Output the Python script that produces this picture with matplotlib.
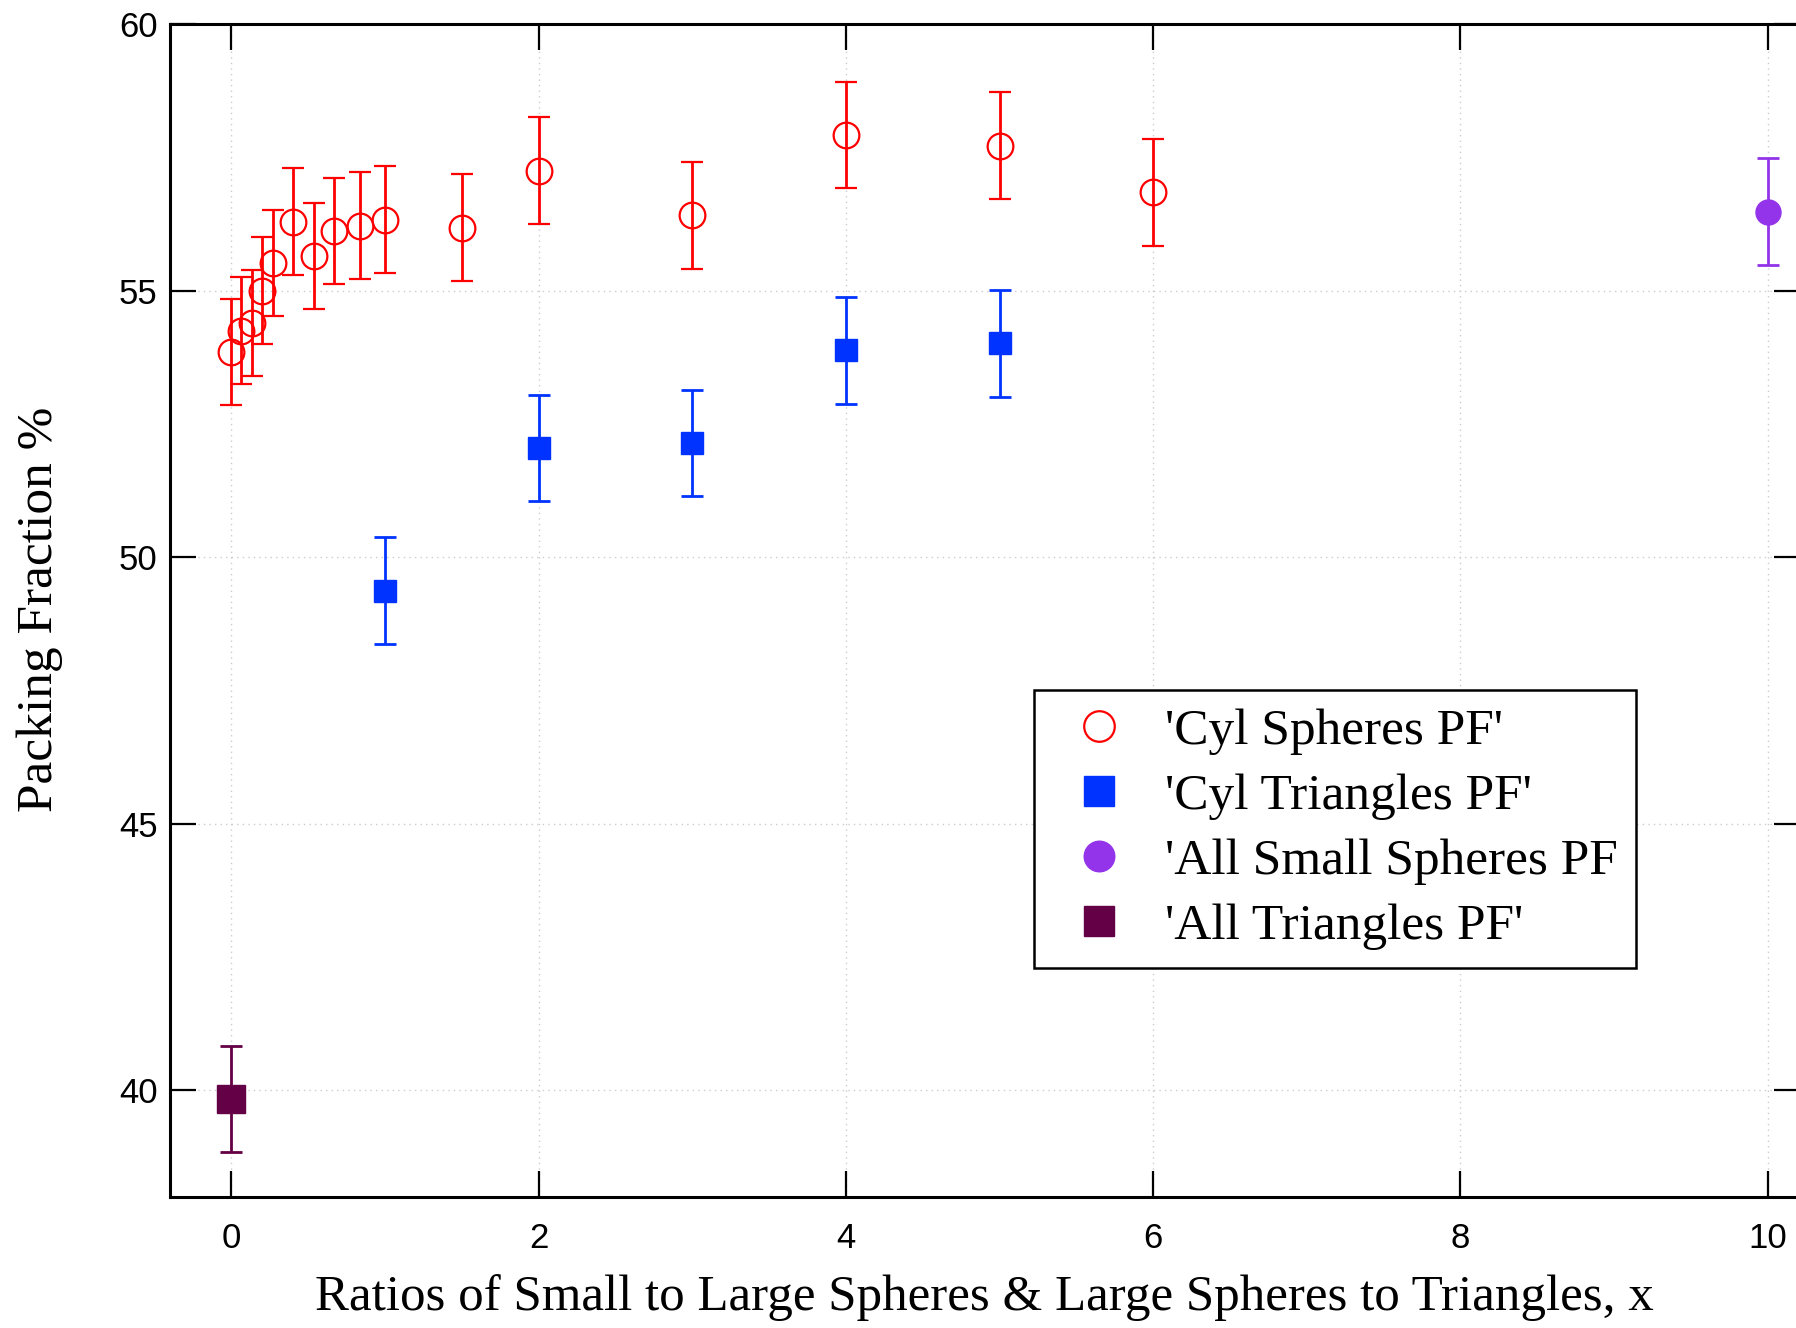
import matplotlib
matplotlib.use("Agg")
import matplotlib.pyplot as plt
from matplotlib.lines import Line2D

# ---- data ----
cyl_spheres_x = [0, 0.065, 0.134, 0.2, 0.27, 0.40, 0.536, 0.666, 0.835, 1.0, 1.5, 2, 3, 4, 5, 6]
cyl_spheres_y = [53.85, 54.25, 54.39, 55.0, 55.52, 56.29, 55.65, 56.12, 56.22, 56.33, 56.18,
                 57.25, 56.41, 57.92, 57.72, 56.84]
cyl_spheres_err = [1.0] * len(cyl_spheres_x)

cyl_tri_x = [1, 2, 3, 4, 5]
cyl_tri_y = [49.37, 52.05, 52.14, 53.88, 54.01]
cyl_tri_err = [1.0] * len(cyl_tri_x)

small_sph_x = [10]
small_sph_y = [56.48]
small_sph_err = [1.0]

all_tri_x = [0]
all_tri_y = [39.84]
all_tri_err = [1.0]

labels = ["'Cyl Spheres PF'", "'Cyl Triangles PF'", "'All Small Spheres PF", "'All Triangles PF'"]
xticks = [0, 2, 4, 6, 8, 10]
yticks = [40, 45, 50, 55, 60]

RED = "#ff0000"
BLUE = "#0033ff"
PURPLE = "#9333ea"
DARK = "#640046"

W, H = 1796, 1328
fig = plt.figure(figsize=(W / 100, H / 100), dpi=100)
ax = fig.add_axes([170 / W, 1 - 1197 / H, (1800 - 170) / W, (1197 - 24) / H])

ekw = dict(capsize=8, elinewidth=2.0, capthick=2.0, linestyle="none")
ax.errorbar(cyl_spheres_x, cyl_spheres_y, yerr=cyl_spheres_err, color=RED, marker="o",
            markersize=18.5, markerfacecolor="none", markeredgecolor=RED, markeredgewidth=1.6,
            zorder=3, **ekw)
ax.errorbar(cyl_tri_x, cyl_tri_y, yerr=cyl_tri_err, color=BLUE, marker="s",
            markersize=15.5, markerfacecolor=BLUE, markeredgecolor=BLUE, zorder=3, **ekw)
ax.errorbar(small_sph_x, small_sph_y, yerr=small_sph_err, color=PURPLE, marker="o",
            markersize=18, markerfacecolor=PURPLE, markeredgecolor=PURPLE, zorder=3, **ekw)
ax.errorbar(all_tri_x, all_tri_y, yerr=all_tri_err, color=DARK, marker="s",
            markersize=19.5, markerfacecolor=DARK, markeredgecolor=DARK, zorder=3, **ekw)

ax.set_xlim(-0.4, 10.21)
ax.set_ylim(38, 60)
ax.set_xticks(xticks)
ax.set_yticks(yticks)
ax.grid(True, linestyle=(0, (1, 3)), color="#cccccc", linewidth=1.0)
ax.set_axisbelow(True)

for s in ax.spines.values():
    s.set_linewidth(2.2)
ax.tick_params(axis="both", which="major", direction="in", length=19, width=1.6,
               top=True, right=True, labelsize=25)
ax.tick_params(axis="x", pad=18)
ax.tick_params(axis="y", pad=9)
for lab in ax.get_xticklabels() + ax.get_yticklabels():
    lab.set_fontfamily("Liberation Sans")

fig.text(984.5 / W, 1 - 1310 / H,
         "Ratios of Small to Large Spheres & Large Spheres to Triangles, x",
         fontsize=36.7, family="Liberation Serif", ha="center", va="baseline")
fig.text(52 / W, 1 - 609 / H, "Packing Fraction %", fontsize=37, family="Liberation Serif",
         rotation=90, rotation_mode="anchor", ha="center", va="baseline")

handles = [
    Line2D([], [], linestyle="none", marker="o", markersize=22, markerfacecolor="none",
           markeredgecolor=RED, markeredgewidth=1.6),
    Line2D([], [], linestyle="none", marker="s", markersize=21, color=BLUE),
    Line2D([], [], linestyle="none", marker="o", markersize=22, color=PURPLE),
    Line2D([], [], linestyle="none", marker="s", markersize=21, color=DARK),
]
leg = fig.legend(handles, labels, loc="upper left",
                 bbox_to_anchor=(1034 / W, 1 - 690 / H),
                 prop={"family": "Liberation Serif", "size": 37},
                 frameon=True, fancybox=False, framealpha=1, edgecolor="black",
                 handlelength=1.82, handletextpad=0.38, borderpad=0.35, labelspacing=0.35,
                 borderaxespad=0)
leg.get_frame().set_linewidth(1.8)

fig.savefig("out.png", dpi=100)
